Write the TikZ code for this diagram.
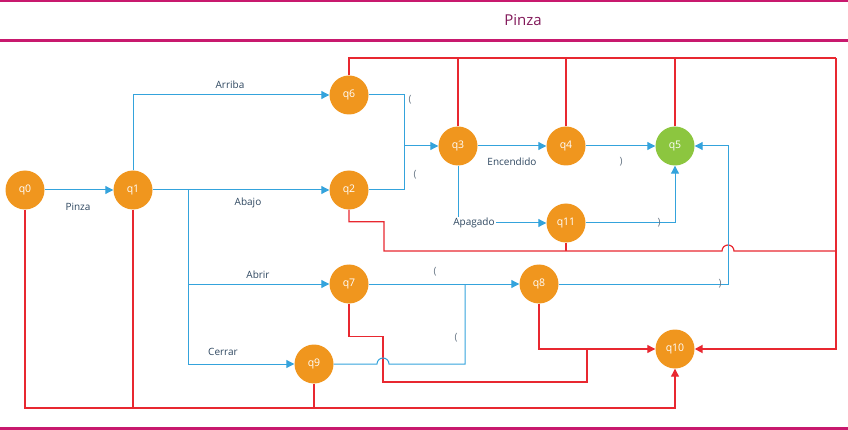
\documentclass[tikz,border=0pt]{standalone}
\usepackage{fontspec}
\setmainfont{Open Sans}
\usetikzlibrary{arrows.meta}
\definecolor{stateorange}{RGB}{240,150,30}
\definecolor{stategreen}{RGB}{140,198,63}
\definecolor{lineblue}{RGB}{52,163,220}
\definecolor{linered}{RGB}{232,40,48}
\definecolor{labelgray}{RGB}{45,70,95}
\definecolor{parengray}{RGB}{100,115,130}
\definecolor{barmagenta}{RGB}{200,25,110}
\definecolor{titlepurple}{RGB}{130,25,90}
\tikzset{
x=1pt, y=-1pt,
>={Triangle[length=8pt,width=8pt]},
state/.style=
    {circle,
    fill=stateorange,
    minimum size=39pt,
    inner sep=0pt,
    text=white,
    font=\fontsize{10.5}{12}\selectfont
    },
final/.style={state, fill=stategreen},
blueline/.style={draw=lineblue, line width=1pt},
redline/.style={draw=linered, line width=1.2pt},
lbl/.style={text=labelgray, inner sep=1pt, font=\fontsize{10}{12}\selectfont},
paren/.style={text=parengray, inner sep=0pt, font=\fontsize{10}{12}\selectfont},
bar/.style={draw=barmagenta, line width=3pt},
heading/.style={text=titlepurple, font=\fontsize{15}{18}\selectfont}
}
\begin{document}
\begin{tikzpicture}
\useasboundingbox (0,0) rectangle (848,430);
\draw[bar, line width=2pt] (0,1) -- (848,1);
\draw[bar] (0,41) -- (848,41);
\draw[bar] (0,428) -- (848,428);
\node[heading] (title) at (523,20) {Pinza};

\node[state] (q0) at (25,190) {q0};
\node[state] (q1) at (133,190) {q1};
\node[state] (q6) at (349,95) {q6};
\node[state] (q2) at (349,190) {q2};
\node[state] (q3) at (458,146) {q3};
\node[state] (q4) at (566,146) {q4};
\node[final] (q5) at (675,146) {q5};
\node[state] (q11) at (566,223) {q11};
\node[state] (q7) at (349,284) {q7};
\node[state] (q8) at (539,284) {q8};
\node[state] (q9) at (314,364) {q9};
\node[state] (q10) at (675,349) {q10};

\coordinate (tr) at (836,58);
\coordinate (rb) at (836,251);
\coordinate (bb) at (675,408);
\coordinate (j1) at (188,190);
\coordinate (j3) at (404,146);
\coordinate (j5) at (728,284);
\coordinate (j8) at (587,382);
\coordinate (j9) at (465,364);

\draw[redline] (q6.north) |- (tr);
\draw[redline, line width=1.8pt, ->] (tr) |- (q10.east);
\foreach \q in {q3,q4,q5}
    \draw[redline] (\q.north) -- (\q |- tr);
\draw[redline] (q2.south) |- ++(35,12) |- (722,251) arc[start angle=180,end angle=0,radius=6pt] -- (rb);
\draw[redline] (q11.south) -- (q11 |- rb);
\draw[redline] (q7.south) |- ++(34,33) |- (j8) -- (j8 |- q10);
\draw[redline, ->] (q8.south) |- (q10.west);
\draw[redline, ->] (q0.south) |- (bb) -- (q10.south);
\draw[redline] (q1.south) -- (q1 |- bb);
\draw[redline] (q9.south) -- (q9 |- bb);

\draw[blueline, ->] (q0) -- (q1);
\draw[blueline, ->] (q1.north) |- (q6);
\draw[blueline, ->] (q1) -- (q2);
\draw[blueline, ->] (j1) |- (q7);
\draw[blueline, ->] (j1) |- (q9);
\draw[blueline] (q6) -| (j3);
\draw[blueline] (q2) -| (j3);
\draw[blueline, ->] (j3) -- (q3);
\draw[blueline, ->] (q3) -- (q4);
\draw[blueline, ->] (q4) -- (q5);
\draw[blueline, ->] (q3) |- (q11);
\draw[blueline, ->] (q11) -| (q5);
\draw[blueline, ->] (q7) -- (q8);
\draw[blueline] (q9) -- (377,364) arc[start angle=180,end angle=0,radius=6pt] -- (j9) -- (j9 |- q8);
\draw[blueline, ->] (q8) -- (j5) |- (q5);

\node[lbl] (lpinza) at (78,207) {Pinza};
\node[lbl] (larriba) at (230,85) {Arriba};
\node[lbl] (labajo) at (248,203) {Abajo};
\node[lbl] (labrir) at (258,275) {Abrir};
\node[lbl] (lcerrar) at (223,352) {Cerrar};
\node[lbl] (lencendido) at (512,162) {Encendido};
\node[lbl, fill=white] (lapagado) at (474,223) {Apagado};
\node[paren] (p6) at (410,100) {(};
\node[paren] (p2) at (415,175) {(};
\node[paren] (p4) at (621,162) {)};
\node[paren] (p11) at (659,223) {)};
\node[paren] (p7) at (435,272) {(};
\node[paren] (p9) at (456,338) {(};
\node[paren] (p8) at (720,284) {)};
\end{tikzpicture}
\end{document}
